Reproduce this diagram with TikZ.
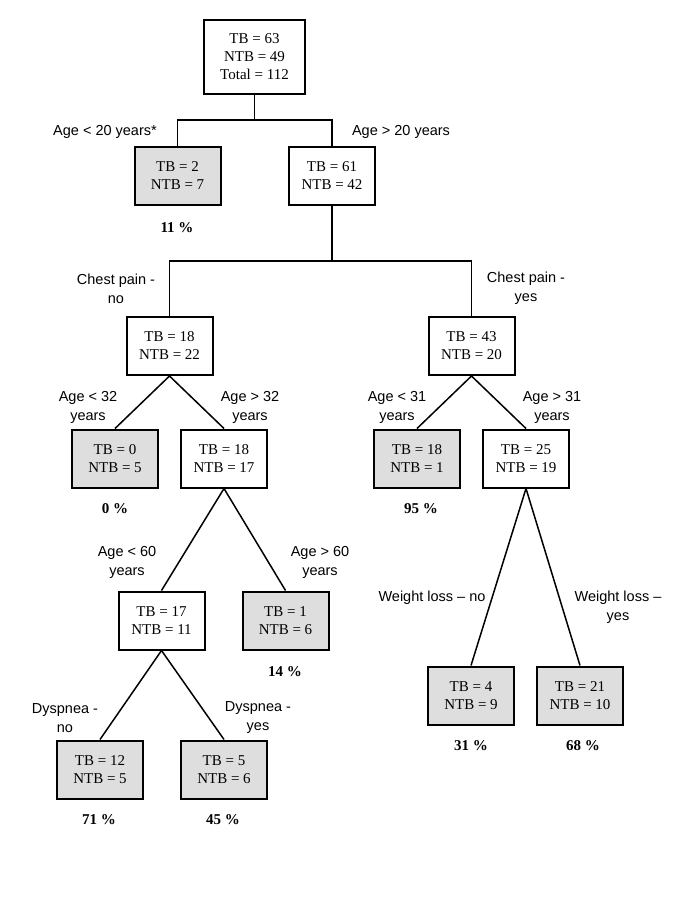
\documentclass[tikz,border=0pt]{standalone}
\usepackage{fontspec}
\setmainfont{Liberation Serif}
\newfontfamily\labelfont{Liberation Sans}
\usetikzlibrary{calc}

\begin{document}
\begin{tikzpicture}[x=1pt,y=-1pt,
  box/.style={draw,line width=2pt,minimum width=86pt,minimum height=58pt,
    align=center,inner sep=0pt,font=\fontsize{15}{18}\selectfont},
  leaf/.style={box,fill=black!13},
  branch/.style={align=center,font=\labelfont\fontsize{14.5}{19}\selectfont},
  share/.style={font=\bfseries\fontsize{15}{17}\selectfont},
  edge/.style={line width=1.5pt}]

\useasboundingbox (0,0) rectangle (685,913);

% root
\node[box,minimum width=101pt,minimum height=74pt] (root) at (254.5,57) {TB = 63\\NTB = 49\\Total = 112};

% age 20
\node[leaf] (young) at (177.5,175.5) {TB = 2\\NTB = 7};
\node[box] (old) at (332,175.5) {TB = 61\\NTB = 42};
\coordinate (split1) at (254.5,120);
\draw[edge] (root.south) -- (split1) -| (young.north);
\draw[edge] (split1) -| (old.north);
\node[branch] (lyoung) at (105,132) {Age < 20 years*};
\node[branch] (lold) at (401,132) {Age > 20 years};
\node[share] (pyoung) at (177,228) {11 \%};

% chest pain
\node[box] (painno) at (169.5,346) {TB = 18\\NTB = 22};
\node[box] (painyes) at (471.5,346) {TB = 43\\NTB = 20};
\coordinate (split2) at (332,261);
\draw[edge] (old.south) -- (split2) -| (painno.north);
\draw[edge] (split2) -| (painyes.north);
\node[branch] (lpainno) at (116,288.5) {Chest pain -\\no};
\node[branch] (lpainyes) at (526,288.5) {Chest pain -\\yes};

% age 32
\node[leaf] (a32lo) at (115,458.5) {TB = 0\\NTB = 5};
\node[box] (a32hi) at (224,458.5) {TB = 18\\NTB = 17};
\draw[edge] (painno.south) -- (a32lo.north);
\draw[edge] (painno.south) -- (a32hi.north);
\node[branch] (la32lo) at (88,407.5) {Age < 32\\years};
\node[branch] (la32hi) at (250,407.5) {Age > 32\\years};
\node[share] (pa32lo) at (115,509) {0 \%};

% age 31
\node[leaf] (a31lo) at (417,458.5) {TB = 18\\NTB = 1};
\node[box] (a31hi) at (526,458.5) {TB = 25\\NTB = 19};
\draw[edge] (painyes.south) -- (a31lo.north);
\draw[edge] (painyes.south) -- (a31hi.north);
\node[branch] (la31lo) at (397,407.5) {Age < 31\\years};
\node[branch] (la31hi) at (552,407.5) {Age > 31\\years};
\node[share] (pa31lo) at (421,509) {95 \%};

% age 60
\node[box] (a60lo) at (161.5,620.5) {TB = 17\\NTB = 11};
\node[leaf] (a60hi) at (285.5,620.5) {TB = 1\\NTB = 6};
\draw[edge] (a32hi.south) -- (a60lo.north);
\draw[edge] (a32hi.south) -- (a60hi.north);
\node[branch] (la60lo) at (127,562.5) {Age < 60\\years};
\node[branch] (la60hi) at (320,562.5) {Age > 60\\years};
\node[share] (pa60hi) at (285,672) {14 \%};

% weight loss
\node[leaf] (wno) at (471,695.5) {TB = 4\\NTB = 9};
\node[leaf] (wyes) at (580,695.5) {TB = 21\\NTB = 10};
\draw[edge] (a31hi.south) -- (wno.north);
\draw[edge] (a31hi.south) -- (wyes.north);
\node[branch] (lwno) at (432,598) {Weight loss \textendash\ no};
\node[branch] (lwyes) at (618,607) {Weight loss \textendash\\yes};
\node[share] (pwno) at (471,746) {31 \%};
\node[share] (pwyes) at (583,746) {68 \%};

% dyspnea
\node[leaf] (dno) at (100,769.5) {TB = 12\\NTB = 5};
\node[leaf] (dyes) at (224,769.5) {TB = 5\\NTB = 6};
\draw[edge] (a60lo.south) -- (dno.north);
\draw[edge] (a60lo.south) -- (dyes.north);
\node[branch] (ldno) at (65,718) {Dyspnea -\\no};
\node[branch] (ldyes) at (258,718) {Dyspnea -\\yes};
\node[share] (pdno) at (99,820) {71 \%};
\node[share] (pdyes) at (223,820) {45 \%};

\end{tikzpicture}
\end{document}
